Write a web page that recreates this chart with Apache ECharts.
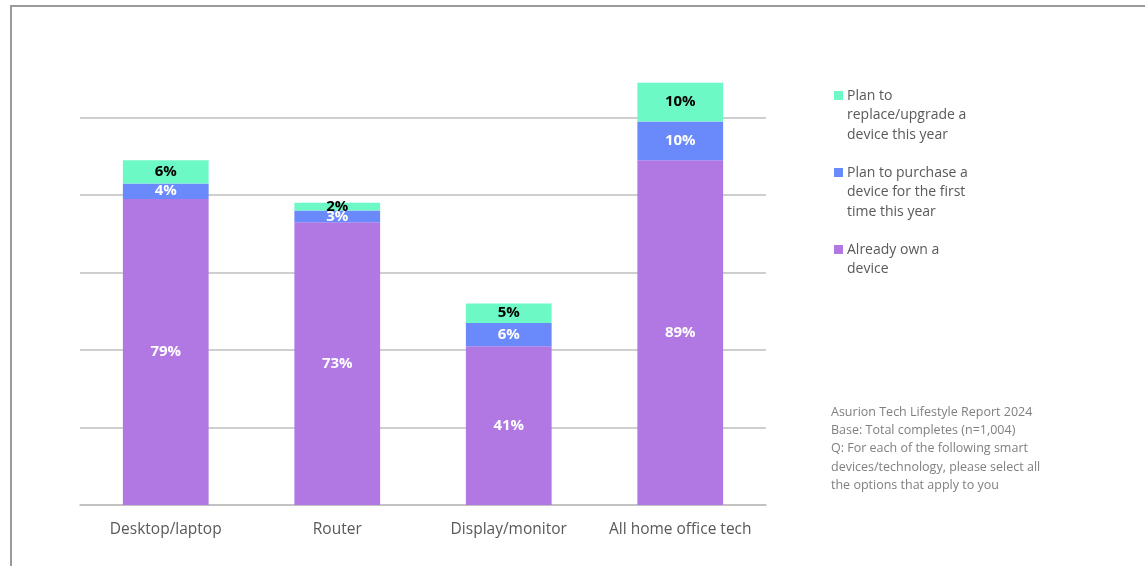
<!DOCTYPE html>
<html>
<head>
<meta charset="utf-8">
<script src="https://cdn.jsdelivr.net/npm/echarts@6/dist/echarts.min.js"></script>
<style>
  html, body { margin: 0; padding: 0; background: #fff; }
  #chart { width: 1145px; height: 566px; }
</style>
</head>
<body>
<div id="chart"></div>
<script>
// Home office tech ownership and purchase plans
const categories = ['Desktop/laptop', 'Router', 'Display/monitor', 'All home office tech'];
const seriesNames = ['Already own a device', 'Plan to purchase a device for the first time this year', 'Plan to replace/upgrade a device this year'];
const alreadyOwn = [79, 73, 41, 89];
const purchaseFirst = [4, 3, 6, 10];
const replaceUpgrade = [6, 2, 5, 10];
const legendLines = [
  ['Plan to', 'replace/upgrade a', 'device this year'],
  ['Plan to purchase a', 'device for the first', 'time this year'],
  ['Already own a', 'device']
];
const noteLines = [
  'Asurion Tech Lifestyle Report 2024',
  'Base: Total completes (n=1,004)',
  'Q: For each of the following smart',
  'devices/technology, please select all',
  'the options that apply to you'
];

const FONT = '"Open Sans", "Noto Sans", sans-serif';
const colors = ['#b178e4', '#6a89fb', '#6cf9c6'];
const labelColors = ['#ffffff', '#ffffff', '#000000'];

const chart = echarts.init(document.getElementById('chart'), null, { renderer: 'canvas' });

function makeSeries(name, data, i) {
  return {
    name: name,
    type: 'bar',
    stack: 'total',
    barWidth: '50%',
    data: data,
    itemStyle: { color: colors[i] },
    label: {
      show: true,
      position: 'inside',
      formatter: '{c}%',
      color: labelColors[i],
      fontFamily: FONT,
      fontWeight: 'bold',
      fontSize: 15
    },
    emphasis: { disabled: true }
  };
}

// Legend drawn as graphic blocks so the marker sits on the first text line
const legendGraphics = [];
const legendColors = [colors[2], colors[1], colors[0]];
const legendTops = [88, 165, 242];
legendLines.forEach((lines, i) => {
  legendGraphics.push({
    type: 'rect',
    left: 834, top: legendTops[i] + 3,
    shape: { width: 9, height: 9 },
    style: { fill: legendColors[i] }
  });
  legendGraphics.push({
    type: 'text',
    left: 847, top: legendTops[i] - 2,
    style: {
      text: lines.join('\n'),
      fill: '#595959',
      font: '14px ' + FONT,
      lineHeight: 19.5
    }
  });
});

chart.setOption({
  animation: false,
  grid: { left: 80, right: 379, top: 40, bottom: 61 },
  xAxis: {
    type: 'category',
    data: categories,
    axisLine: { show: true, lineStyle: { color: '#bfbfbf', width: 1.5 } },
    axisTick: { show: false },
    axisLabel: { interval: 0, color: '#595959', fontFamily: FONT, fontSize: 15.5, margin: 17 }
  },
  yAxis: {
    type: 'value',
    min: 0, max: 120, interval: 20,
    axisLabel: { show: false },
    axisLine: { show: false },
    axisTick: { show: false },
    splitLine: { show: true, showMaxLine: false, lineStyle: { color: '#bfbfbf', width: 1.5 } }
  },
  series: [
    makeSeries(seriesNames[0], alreadyOwn, 0),
    makeSeries(seriesNames[1], purchaseFirst, 1),
    makeSeries(seriesNames[2], replaceUpgrade, 2)
  ],
  graphic: [
    {
      type: 'polyline',
      shape: { points: [[11, 566], [11, 6], [1145, 6]] },
      style: { stroke: '#9a9a9a', lineWidth: 2, fill: null }
    },
    ...legendGraphics,
    {
      type: 'text',
      left: 831, top: 403,
      style: {
        text: noteLines.join('\n'),
        fill: '#808080',
        font: '12.5px ' + FONT,
        lineHeight: 18.3
      }
    }
  ]
});
</script>
</body>
</html>
